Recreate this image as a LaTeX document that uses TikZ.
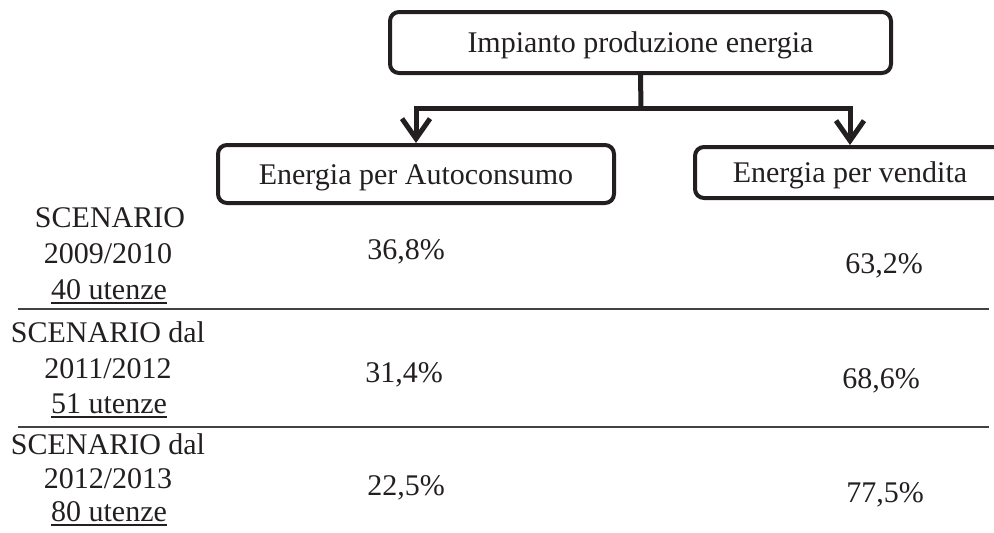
\documentclass[tikz,border=0pt]{standalone}
\usepackage{fontspec}
\setmainfont{Liberation Serif}
\usetikzlibrary{arrows.meta}
\definecolor{ink}{HTML}{231F20}
\newcommand\undl[1]{\setbox0\hbox{#1}\rlap{\rule[-4.5pt]{\wd0}{1.8pt}}\box0}
\begin{document}
\begin{tikzpicture}[x=1pt,y=-1pt,
  font=\fontsize{30}{36}\selectfont, text=ink,
  box/.style={draw=ink, line width=4pt, rounded corners=9pt, inner sep=0pt,
    text height=20.5pt, text depth=0pt},
  conn/.style={draw=ink, line width=5pt},
  tip/.style={-{Straight Barb[length=20pt 0 0, width=28pt 0 0, line width=5pt]}},
  txt/.style={anchor=base, inner sep=0pt},
  rule/.style={draw=ink!85, line width=1.8pt}]
\clip (0,0) rectangle (994,533);
% boxes
\node[box, minimum width=501pt, minimum height=61pt] (top) at (640.5,42.5) {Impianto produzione energia};
\node[box, minimum width=396pt, minimum height=58pt] (auto) at (416,174) {Energia per Autoconsumo};
\node[box, minimum width=310pt, minimum height=51pt] (sell) at (850,172.5) {Energia per vendita};
% connectors
\coordinate (j) at (641,108);
\draw[conn] (top.south) -- (j);
\draw[conn, tip] (j) -| (auto.north);
\draw[conn, tip] (j) -| (sell.north);
% rules
\draw[rule] (18,309) -- (989,309);
\draw[rule] (18,427) -- (989,427);
% scenario 1
\node[txt] (s1a) at (110,227) {SCENARIO};
\node[txt] (s1b) at (108,263) {2009/2010};
\node[txt] (s1c) at (109,299) {\undl{40 utenze}};
\node[txt] (p1a) at (406,259) {36,8\%};
\node[txt] (p1b) at (884,273) {63,2\%};
% scenario 2
\node[txt] (s2a) at (108,342) {SCENARIO dal};
\node[txt] (s2b) at (108,378) {2011/2012};
\node[txt] (s2c) at (109,413) {\undl{51 utenze}};
\node[txt] (p2a) at (404,382) {31,4\%};
\node[txt] (p2b) at (881,388) {68,6\%};
% scenario 3
\node[txt] (s3a) at (108,454) {SCENARIO dal};
\node[txt] (s3b) at (108,488) {2012/2013};
\node[txt] (s3c) at (109,521) {\undl{80 utenze}};
\node[txt] (p3a) at (406,495) {22,5\%};
\node[txt] (p3b) at (885,502) {77,5\%};
\end{tikzpicture}
\end{document}
